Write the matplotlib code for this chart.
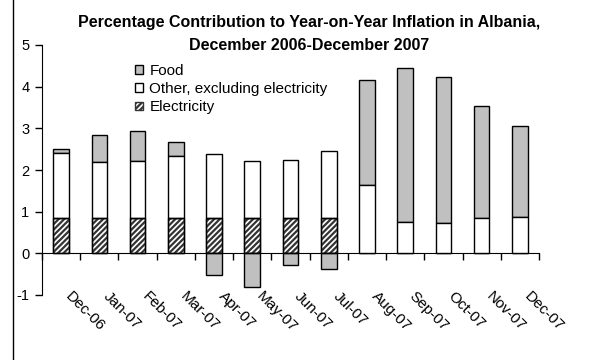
import numpy as np
import matplotlib.pyplot as plt
from matplotlib.lines import Line2D

plt.rcParams['font.family'] = ['Liberation Sans', 'DejaVu Sans']
plt.rcParams['hatch.linewidth'] = 1.6

# data
months = ['Dec-06', 'Jan-07', 'Feb-07', 'Mar-07', 'Apr-07', 'May-07', 'Jun-07',
          'Jul-07', 'Aug-07', 'Sep-07', 'Oct-07', 'Nov-07', 'Dec-07']
electricity = [0.85, 0.85, 0.85, 0.85, 0.85, 0.85, 0.85, 0.86, 0, 0, 0, 0, 0]
other = [1.56, 1.34, 1.36, 1.48, 1.54, 1.36, 1.40, 1.59, 1.65, 0.75, 0.72, 0.84, 0.88]
food = [0.09, 0.66, 0.72, 0.35, -0.51, -0.81, -0.27, -0.38, 2.50, 3.69, 3.51, 2.69, 2.17]

x = np.arange(len(months))
elec = np.array(electricity)
oth = np.array(other)
fd = np.array(food)
food_bottom = np.where(fd > 0, elec + oth, 0)

fig = plt.figure(figsize=(6.05, 3.6), dpi=100)
ax = fig.add_axes([42/605, 65/360, 497/605, 250/360])

w = 0.41
ax.bar(x, fd, w, bottom=food_bottom, color='#c0c0c0', edgecolor='black', lw=1, label='Food', zorder=3)
ax.bar(x, oth, w, bottom=elec, color='white', edgecolor='black', lw=1,
       label='Other, excluding electricity', zorder=3)
ax.bar(x, elec, w, color='white', edgecolor='#333333', hatch='//////', lw=1, label='Electricity', zorder=2)
# redraw electricity outline in black
ax.bar(x[elec > 0], elec[elec > 0], w, fill=False, edgecolor='black', lw=1, zorder=4)

ax.set_xlim(-0.5, len(months) - 0.5)
ax.set_ylim(-1, 5)
ax.set_yticks(range(-1, 6))
ax.set_yticklabels(['-1', '0', '1', '2', '3', '4', '5'], fontsize=10.5)
ax.tick_params(axis='y', direction='out', length=5, width=1, pad=4)

ax.spines['top'].set_visible(False)
ax.spines['right'].set_visible(False)
ax.spines['bottom'].set_position(('data', 0))
ax.set_xticks(np.arange(len(months) + 1) - 0.5)
ax.set_xticklabels([])
ax.tick_params(axis='x', direction='out', length=5, width=1)

# category labels sit at the bottom of the plot area
for i, m in enumerate(months):
    ax.text(i + 0.3, -0.87, m, rotation=-45, rotation_mode='anchor',
            ha='left', va='top', fontsize=11)

fig.text(0.511, 1 - 22/360, 'Percentage Contribution to Year-on-Year Inflation in Albania,',
         ha='center', va='center', fontsize=11.5, fontweight='bold')
fig.text(0.511, 1 - 45/360, 'December 2006-December 2007',
         ha='center', va='center', fontsize=11.5, fontweight='bold')

handles, labels = ax.get_legend_handles_labels()
ax.legend(handles[:3], labels[:3], loc='upper left', bbox_to_anchor=(0.187, 0.925),
          frameon=False, fontsize=11, handlelength=0.5, handleheight=0.5,
          handletextpad=0.45, labelspacing=0.28, borderaxespad=0, borderpad=0)

fig.add_artist(Line2D([13/605, 13/605], [0, 1], color='black', lw=1))

fig.savefig('out.png', dpi=100)
